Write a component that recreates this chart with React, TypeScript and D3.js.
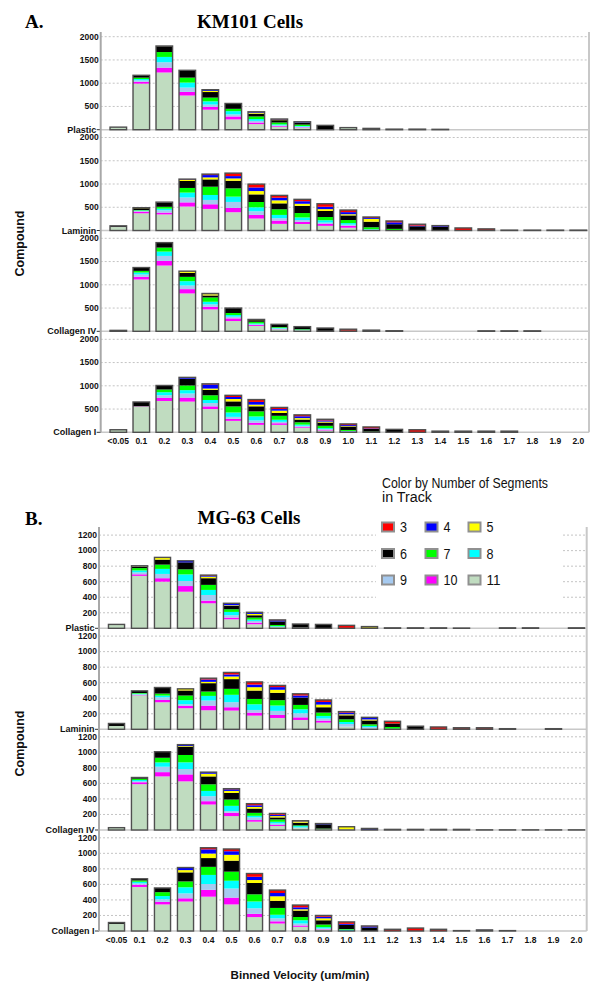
import React from 'react';
import * as d3 from 'd3';

const categories = ['<0.05','0.1','0.2','0.3','0.4','0.5','0.6','0.7','0.8','0.9','1.0','1.1','1.2','1.3','1.4','1.5','1.6','1.7','1.8','1.9','2.0'];
// stacking order bottom -> top
const segmentKeys = ['11','10','9','8','7','6','5','4','3'];
const segmentColors = ['#c0dcc0','#ff00ff','#a6caf0','#00ffff','#00ff00','#000000','#ffff00','#0000ff','#ff0000'];
const legendOrder = ['3','4','5','6','7','8','9','10','11'];
const substrates = ['Plastic','Laminin','Collagen IV','Collagen I'];
const ticksA = [500,1000,1500,2000];
const ticksB = [200,400,600,800,1000,1200];

const Z = [0,0,0,0,0,0,0,0,0];

// Each row: one velocity bin, columns = segments 11,10,9,8,7,6,5,4,3
const kmPlastic = [
  [55,0,0,0,0,0,0,0,0],
  [990,40,30,30,30,40,5,5,0],
  [1230,105,115,115,105,125,3,2,0],
  [735,78,93,107,107,150,5,2,0],
  [430,60,50,70,80,120,25,20,5],
  [221,64,43,71,50,110,5,0,0],
  [120,35,35,40,55,60,20,15,5],
  [65,15,15,20,40,50,10,10,5],
  [40,10,15,15,30,40,5,15,0],
  [5,0,0,0,3,85,0,0,0],
  [45,0,0,0,0,0,0,0,0],
  [0,0,0,0,0,10,18,0,0],
  [0,0,0,0,0,12,0,0,0],
  [0,0,0,0,0,12,0,0,0],
  [8,0,0,0,0,0,0,0,0],
  Z,Z,Z,Z,Z,Z,
];
const kmLaminin = [
  [75,5,0,0,0,20,0,0,0],
  [370,35,15,10,10,40,5,5,0],
  [345,40,50,35,40,90,5,5,0],
  [515,90,105,105,100,150,25,10,5],
  [464,100,93,107,178,157,43,50,21],
  [393,93,128,114,178,164,50,50,64],
  [257,78,78,86,114,164,71,78,71],
  [143,71,50,71,121,128,64,57,50],
  [140,45,40,55,95,155,45,55,40],
  [100,40,30,50,70,130,40,50,65],
  [60,40,25,35,65,100,25,45,45],
  [20,0,0,10,40,120,60,20,20],
  [10,0,0,0,25,100,0,40,30],
  [0,0,0,10,0,80,0,15,30],
  [0,0,0,0,0,80,0,15,10],
  [0,0,0,0,0,10,0,0,45],
  [0,0,0,0,0,10,0,0,25],
  [0,0,0,0,0,8,0,0,0],
  [0,0,0,0,0,8,0,0,0],
  [0,0,0,0,0,8,0,0,0],
  [0,0,0,0,0,8,0,0,0],
];
const kmCollagenIV = [
  [0,0,0,0,0,20,0,0,0],
  [1114,57,50,43,36,71,0,0,0],
  [1414,100,107,93,86,107,0,0,0],
  [814,93,78,93,93,86,36,0,0],
  [471,57,50,57,93,43,28,14,0],
  [221,57,36,36,43,107,0,0,0],
  [115,20,15,20,35,35,15,0,0],
  [45,5,10,15,15,55,5,0,0],
  [25,0,0,10,10,55,0,0,0],
  [10,0,0,0,0,60,0,0,0],
  [0,0,0,0,0,15,0,0,30],
  [0,0,0,0,0,25,0,0,0],
  [12,0,0,0,0,0,0,0,0],
  Z,Z,Z,
  [10,0,0,0,0,0,0,0,0],
  [10,0,0,0,0,0,0,0,0],
  [10,0,0,0,0,0,0,0,0],
  Z,Z,
];
const kmCollagenI = [
  [55,0,0,0,0,0,0,0,0],
  [555,5,0,0,0,92,0,0,0],
  [674,65,58,65,58,87,0,0,0],
  [660,87,87,72,101,145,0,29,0],
  [500,58,72,65,101,116,29,87,14],
  [246,43,43,94,130,109,51,43,36],
  [160,43,51,87,109,109,36,58,51],
  [160,35,30,45,85,60,50,35,35],
  [100,20,20,25,50,60,30,40,30],
  [40,15,15,20,50,70,20,25,25],
  [10,10,0,10,20,75,10,20,25],
  [0,0,0,0,15,60,0,10,30],
  [0,0,0,0,0,55,0,0,8],
  [0,0,0,0,0,5,0,0,50],
  [0,0,0,0,0,25,0,0,0],
  [0,0,0,0,0,0,0,0,25],
  [25,0,0,0,0,0,0,0,0],
  [25,0,0,0,0,0,0,0,0],
  Z,Z,Z,
];

const mgPlastic = [
  [45,0,0,0,0,5,0,0,0],
  [675,20,25,25,30,20,5,5,0],
  [600,45,55,65,55,65,25,3,0],
  [471,73,65,85,65,90,0,20,0],
  [322,34,73,65,65,86,20,10,10],
  [116,22,30,43,34,43,8,17,9],
  [52,21,22,17,26,30,17,13,8],
  [20,0,0,8,15,45,0,15,5],
  [10,0,0,0,0,45,0,0,0],
  [0,0,0,0,0,50,0,0,0],
  [0,0,0,0,0,5,0,0,33],
  [0,0,0,0,0,0,22,0,0],
  [6,0,0,0,0,0,0,0,0],
  [6,0,0,0,0,0,0,0,0],
  [6,0,0,0,0,0,0,0,0],
  [3,0,0,0,0,0,0,0,0],
  Z,
  [6,0,0,0,0,0,0,0,0],
  [6,0,0,0,0,0,0,0,0],
  Z,
  [6,0,0,0,0,0,0,0,0],
];
const mgLaminin = [
  [43,0,0,0,0,32,0,0,0],
  [438,5,8,8,8,28,0,0,0],
  [348,30,34,22,26,73,5,0,0],
  [271,30,22,52,60,65,21,0,0],
  [245,60,65,60,56,108,17,30,17],
  [241,43,65,95,77,125,34,26,26],
  [176,39,34,73,69,108,43,34,34],
  [146,39,52,69,69,95,39,34,22],
  [120,34,52,52,56,95,0,26,22],
  [86,26,26,34,43,69,34,34,26],
  [34,0,34,26,34,52,13,22,13],
  [10,0,17,17,20,50,13,22,5],
  [0,0,0,8,22,45,0,0,28],
  [0,0,0,0,0,40,0,0,0],
  [0,0,0,0,0,5,0,0,25],
  [0,0,0,0,0,5,0,0,15],
  [0,0,0,0,0,5,0,0,15],
  [8,0,0,0,0,0,0,0,0],
  Z,
  [8,0,0,0,0,0,0,0,0],
  Z,
];
const mgCollagenIV = [
  [30,0,0,0,0,0,0,0,0],
  [590,25,12,17,17,15,0,0,0],
  [690,55,70,55,60,75,3,0,0],
  [626,90,69,86,95,108,8,17,0],
  [328,43,64,68,85,102,34,21,0],
  [179,43,21,68,81,85,26,21,8],
  [107,21,34,21,38,55,21,21,21],
  [51,13,21,21,30,26,17,17,17],
  [25,0,8,17,10,34,17,4,4],
  [10,0,0,0,8,55,0,10,0],
  [8,0,0,0,0,0,34,0,0],
  [0,0,0,0,0,0,0,20,0],
  [8,0,0,0,0,0,0,0,0],
  [8,0,0,0,0,0,0,0,0],
  [8,0,0,0,0,0,0,0,0],
  [8,0,0,0,0,0,0,0,0],
  [2,0,0,0,0,0,0,0,0],
  [2,0,0,0,0,0,0,0,0],
  [2,0,0,0,0,0,0,0,0],
  [2,0,0,0,0,0,0,0,0],
  [2,0,0,0,0,0,0,0,0],
];
const mgCollagenI = [
  [92,0,0,0,0,17,0,0,0],
  [567,29,17,21,17,21,0,0,0],
  [342,33,33,42,50,54,0,0,0],
  [379,42,63,79,75,117,29,33,0],
  [442,88,75,117,104,113,58,54,21],
  [342,88,117,100,117,142,75,46,29],
  [179,42,71,88,92,146,38,42,42],
  [96,29,38,46,88,92,58,42,38],
  [54,17,25,42,42,83,17,25,29],
  [20,5,8,17,33,55,25,20,17],
  [0,0,0,17,8,55,0,12,25],
  [0,0,0,0,0,45,0,15,5],
  [0,0,0,0,0,0,0,0,22],
  [0,0,0,0,0,0,0,0,38],
  [0,0,0,0,0,0,0,0,22],
  [0,0,0,0,0,5,0,0,0],
  [0,0,0,0,0,0,0,14,0],
  [0,0,0,0,0,5,0,0,0],
  Z,Z,Z,
];

const SANS = "'Liberation Sans', Arial, Helvetica, sans-serif";
const SERIF = "'Liberation Serif', 'Times New Roman', serif";

type PanelCfg = {
  sets: number[][][];
  zeros: number[];
  ticks: number[];
  tickMax: number;
  tickPx: number;
  xRange: [number, number];
  pad: number;
  axisX: number;
  rightX: number;
  topY: number;
  xLabelY: number;
};

function Panel({ cfg }: { cfg: PanelCfg }) {
  const x = d3.scaleBand<string>().domain(categories).range(cfg.xRange)
    .paddingInner(cfg.pad).paddingOuter(cfg.pad / 2);
  const bw = x.bandwidth();
  const lastZero = cfg.zeros[cfg.zeros.length - 1];
  return (
    <g>
      {cfg.sets.map((data, si) => {
        const zero = cfg.zeros[si];
        const y = d3.scaleLinear().domain([0, cfg.tickMax]).range([zero, zero - cfg.tickPx]);
        const rows = data.map((r) => {
          const o: any = {};
          segmentKeys.forEach((k, i) => { o[k] = r[i]; });
          return o;
        });
        const series = d3.stack<any>().keys(segmentKeys)(rows);
        const totals = data.map((r) => d3.sum(r));
        return (
          <g key={si}>
            {cfg.ticks.map((t) => (
              <line key={t} x1={cfg.axisX} x2={cfg.rightX} y1={y(t)} y2={y(t)}
                stroke="#c4c4c4" strokeWidth={1} strokeDasharray="2,2" />
            ))}
            <line x1={cfg.axisX} x2={cfg.rightX} y1={zero} y2={zero} stroke="#c8c8c8" strokeWidth={1.5} />
            {series.map((s, ki) => s.map((d, ci) => {
              const h = y(d[0]) - y(d[1]);
              if (h <= 0) return null;
              return (
                <rect key={ki + '-' + ci} x={x(categories[ci])} y={y(d[1])} width={bw} height={h}
                  fill={segmentColors[ki]} />
              );
            }))}
            {totals.map((t, ci) => t > 0 ? (
              <rect key={'o' + ci} x={x(categories[ci])} y={y(t)} width={bw} height={y(0) - y(t)}
                fill="none" stroke="#4f4f4f" strokeWidth={1.4} />
            ) : null)}
            {cfg.ticks.map((t) => (
              <text key={'l' + t} x={cfg.axisX - 2} y={y(t)} dy="0.33em" textAnchor="end"
                fontFamily={SANS} fontWeight="bold" fontSize={8.5} fill="#111">{t}</text>
            ))}
            <line x1={cfg.axisX - 4} x2={cfg.axisX} y1={zero} y2={zero} stroke="#333" strokeWidth={1} />
            <text x={cfg.axisX - 4.5} y={zero} dy="0.35em" textAnchor="end"
              fontFamily={SANS} fontWeight="bold" fontSize={9} fill="#111">{substrates[si]}</text>
          </g>
        );
      })}
      <line x1={cfg.axisX} x2={cfg.axisX} y1={cfg.topY} y2={lastZero} stroke="#a8a8a8" strokeWidth={2} />
      <line x1={cfg.rightX} x2={cfg.rightX} y1={cfg.topY} y2={lastZero} stroke="#c8c8c8" strokeWidth={2} />
      {categories.map((c) => (
        <text key={c} x={(x(c) as number) + bw / 2} y={cfg.xLabelY} textAnchor="middle"
          fontFamily={SANS} fontWeight="bold" fontSize={8.5} fill="#111">{c}</text>
      ))}
    </g>
  );
}

const panelA: PanelCfg = {
  sets: [kmPlastic, kmLaminin, kmCollagenIV, kmCollagenI],
  zeros: [129.7, 230.5, 331.3, 432.3],
  ticks: ticksA, tickMax: 2000, tickPx: 93,
  xRange: [106.8, 589.8], pad: 0.28,
  axisX: 100.7, rightX: 589, topY: 32, xLabelY: 444,
};
const panelB: PanelCfg = {
  sets: [mgPlastic, mgLaminin, mgCollagenIV, mgCollagenI],
  zeros: [628.3, 729.3, 830, 931],
  ticks: ticksB, tickMax: 1200, tickPx: 93.2,
  xRange: [105, 588], pad: 0.3,
  axisX: 99, rightX: 586.7, topY: 527, xLabelY: 943,
};

function Legend() {
  const colX = [381, 424.5, 467.5];
  const rowY = [521.5, 548, 574.5];
  return (
    <g>
      <rect x={376} y={468} width={187} height={134} fill="#ffffff" />
      <text x={382} y={488} fontFamily={SANS} fontSize={14} fill="#111"
        textLength={166} lengthAdjust="spacingAndGlyphs">Color by Number of Segments</text>
      <text x={382} y={502} fontFamily={SANS} fontSize={14} fill="#111"
        textLength={50} lengthAdjust="spacingAndGlyphs">in Track</text>
      {legendOrder.map((k, i) => {
        const cx = colX[i % 3];
        const cy = rowY[Math.floor(i / 3)];
        const ci = segmentKeys.indexOf(k);
        return (
          <g key={k}>
            <rect x={cx} y={cy} width={14} height={11} fill="#909090" />
            <rect x={cx + 2} y={cy + 2} width={10} height={7} fill={segmentColors[ci]} />
            <text x={cx + 19} y={cy + 10.5} fontFamily={SANS} fontSize={14} fill="#111"
              textLength={k.length === 2 ? 14 : 7} lengthAdjust="spacingAndGlyphs">{k}</text>
          </g>
        );
      })}
    </g>
  );
}

export default function App() {
  return (
    <svg width={600} height={995} viewBox="0 0 600 995"
      style={{ position: 'absolute', left: 0, top: 0, display: 'block', background: '#fff' }}>
      <rect x={0} y={0} width={600} height={995} fill="#fff" />
      <text x={25} y={28} fontFamily={SERIF} fontWeight="bold" fontSize={19} fill="#000">A.</text>
      <text x={250} y={28} textAnchor="middle" fontFamily={SERIF} fontWeight="bold" fontSize={19} fill="#000">KM101 Cells</text>
      <text x={25} y={525} fontFamily={SERIF} fontWeight="bold" fontSize={19} fill="#000">B.</text>
      <text x={249} y={524} textAnchor="middle" fontFamily={SERIF} fontWeight="bold" fontSize={19} fill="#000">MG-63 Cells</text>
      <Panel cfg={panelA} />
      <Panel cfg={panelB} />
      <text transform="translate(23.5,243.5) rotate(-90)" textAnchor="middle" fontFamily={SANS}
        fontWeight="bold" fontSize={12.5} fill="#111" textLength={66} lengthAdjust="spacingAndGlyphs">Compound</text>
      <text transform="translate(23.5,743.5) rotate(-90)" textAnchor="middle" fontFamily={SANS}
        fontWeight="bold" fontSize={12.5} fill="#111" textLength={66} lengthAdjust="spacingAndGlyphs">Compound</text>
      <text x={300} y={979} textAnchor="middle" fontFamily={SANS} fontWeight="bold" fontSize={11.5}
        fill="#111" textLength={139} lengthAdjust="spacingAndGlyphs">Binned Velocity (um/min)</text>
      <Legend />
    </svg>
  );
}
